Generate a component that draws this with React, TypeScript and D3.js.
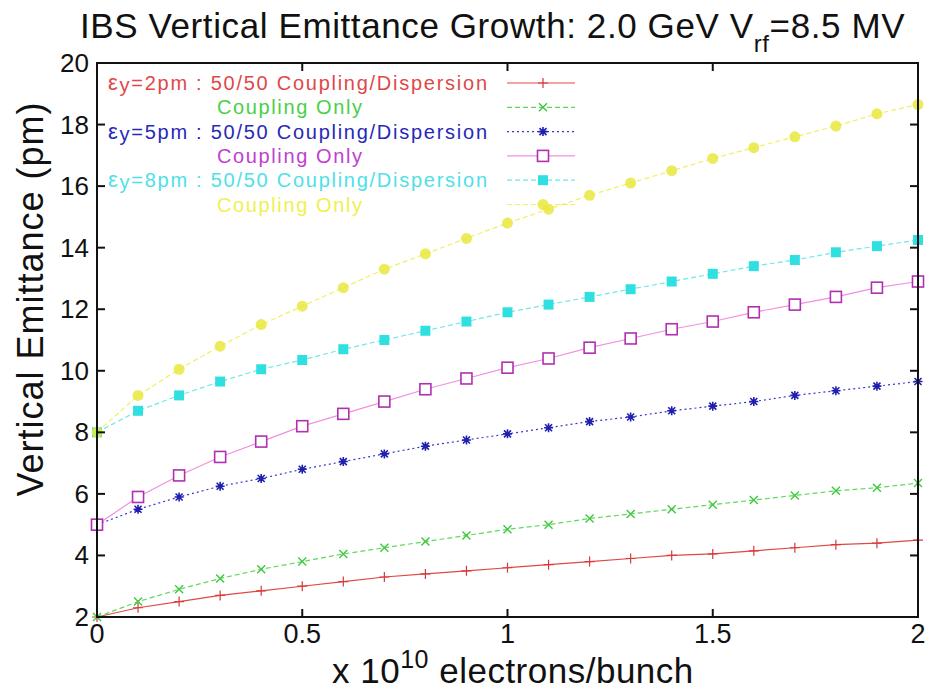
import React from "react";
import * as d3 from "d3";

const xValues = [0, 0.1, 0.2, 0.3, 0.4, 0.5, 0.6, 0.7, 0.8, 0.9, 1.0, 1.1, 1.2, 1.3, 1.4, 1.5, 1.6, 1.7, 1.8, 1.9, 2.0];
const red2pmMixed = [2.0, 2.3, 2.5, 2.7, 2.85, 3.0, 3.15, 3.3, 3.4, 3.5, 3.6, 3.7, 3.8, 3.9, 4.0, 4.05, 4.15, 4.25, 4.35, 4.4, 4.5];
const green2pmCoupling = [2.0, 2.5, 2.9, 3.25, 3.55, 3.8, 4.05, 4.25, 4.45, 4.65, 4.85, 5.0, 5.2, 5.35, 5.5, 5.65, 5.8, 5.95, 6.1, 6.2, 6.35];
const blue5pmMixed = [5.0, 5.5, 5.9, 6.25, 6.5, 6.8, 7.05, 7.3, 7.55, 7.75, 7.95, 8.15, 8.35, 8.5, 8.7, 8.85, 9.0, 9.2, 9.35, 9.5, 9.65];
const magenta5pmCoupling = [5.0, 5.9, 6.6, 7.2, 7.7, 8.2, 8.6, 9.0, 9.4, 9.75, 10.1, 10.4, 10.75, 11.05, 11.35, 11.6, 11.9, 12.15, 12.4, 12.7, 12.9];
const cyan8pmMixed = [8.0, 8.7, 9.2, 9.65, 10.05, 10.35, 10.7, 11.0, 11.3, 11.6, 11.9, 12.15, 12.4, 12.65, 12.9, 13.15, 13.4, 13.6, 13.85, 14.05, 14.25];
const yellow8pmCoupling = [8.0, 9.2, 10.05, 10.8, 11.5, 12.1, 12.7, 13.3, 13.8, 14.3, 14.8, 15.25, 15.7, 16.1, 16.5, 16.9, 17.25, 17.6, 17.95, 18.35, 18.65];

const xTicks = [0, 0.5, 1, 1.5, 2];
const xTickLabels = ["0", "0.5", "1", "1.5", "2"];
const yTicks = [2, 4, 6, 8, 10, 12, 14, 16, 18, 20];

const legendEps = ["2", "", "5", "", "8", ""];
const legendDesc = ["50/50 Coupling/Dispersion", "Coupling Only", "50/50 Coupling/Dispersion", "Coupling Only", "50/50 Coupling/Dispersion", "Coupling Only"];

type Series = { values: number[]; color: string; lineColor: string; dash: string; marker: string; textColor: string };
const series: Series[] = [
  { values: red2pmMixed, color: "#d83838", lineColor: "#e04848", dash: "", marker: "plus", textColor: "#e04848" },
  { values: green2pmCoupling, color: "#40c840", lineColor: "#60d860", dash: "5,3", marker: "times", textColor: "#48d048" },
  { values: blue5pmMixed, color: "#2020b0", lineColor: "#3838d0", dash: "2,3", marker: "asterisk", textColor: "#2828b8" },
  { values: magenta5pmCoupling, color: "#b030b0", lineColor: "#f090e0", dash: "", marker: "squareOpen", textColor: "#c040d0" },
  { values: cyan8pmMixed, color: "#30e0e0", lineColor: "#70e8e8", dash: "5,3", marker: "squareFilled", textColor: "#50e0e8" },
  { values: yellow8pmCoupling, color: "#e8e840", lineColor: "#f0f060", dash: "5,3", marker: "circle", textColor: "#f0f050" },
];

function Marker({ type, x, y, color }: { type: string; x: number; y: number; color: string }) {
  const s = 5;
  if (type === "plus") {
    return <path d={`M${x - s},${y}H${x + s}M${x},${y - s}V${y + s}`} stroke={color} strokeWidth={1.2} />;
  }
  if (type === "times") {
    return <path d={`M${x - 4},${y - 4}L${x + 4},${y + 4}M${x - 4},${y + 4}L${x + 4},${y - 4}`} stroke={color} strokeWidth={1.4} />;
  }
  if (type === "asterisk") {
    return (
      <g>
        <path d={`M${x - 4.5},${y}H${x + 4.5}M${x},${y - 4.5}V${y + 4.5}M${x - 3.5},${y - 3.5}L${x + 3.5},${y + 3.5}M${x - 3.5},${y + 3.5}L${x + 3.5},${y - 3.5}`} stroke={color} strokeWidth={1.6} />
        <circle cx={x} cy={y} r={2.2} fill={color} />
      </g>
    );
  }
  if (type === "squareOpen") {
    return <rect x={x - 5.5} y={y - 5.5} width={11} height={11} fill="white" stroke={color} strokeWidth={1.6} />;
  }
  if (type === "squareFilled") {
    return <rect x={x - 5} y={y - 5} width={10} height={10} fill={color} />;
  }
  return <circle cx={x} cy={y} r={5.5} fill={color} opacity={0.85} />;
}

export default function App() {
  const width = 930;
  const height = 690;
  const left = 97, right = 918, top = 63, bottom = 617;
  const x = d3.scaleLinear().domain([0, 2]).range([left, right]);
  const y = d3.scaleLinear().domain([2, 20]).range([bottom, top]);
  const font = "'Liberation Sans', Arial, sans-serif";

  const legendY = (i: number) => 83 + i * 24.3;
  const legendLineX0 = 507, legendLineX1 = 575;

  return (
    <svg width={width} height={height} style={{ position: "absolute", left: 0, top: 0, background: "white" }} fontFamily={font}>
      <rect x={0} y={0} width={width} height={height} fill="white" />
      {/* Title */}
      <text x={80} y={38} fontSize={35} fill="#111" letterSpacing={0.6}>
        IBS Vertical Emittance Growth: 2.0 GeV V
        <tspan dy={14} fontSize={24}>rf</tspan>
        <tspan dy={-14}>=8.5 MV</tspan>
      </text>

      {/* Series lines */}
      {series.map((s, i) => {
        const line = d3.line<number>().x((_, j) => x(xValues[j])).y((v) => y(v));
        return (
          <path key={"l" + i} d={line(s.values) || ""} fill="none" stroke={s.lineColor} strokeWidth={1.2} strokeDasharray={s.dash} />
        );
      })}
      {series.map((s, i) => (
        <g key={"m" + i}>
          {s.values.map((v, j) => (
            <Marker key={j} type={s.marker} x={x(xValues[j])} y={y(v)} color={s.color} />
          ))}
        </g>
      ))}

      {/* Legend */}
      {series.map((s, i) => {
        const ly = legendY(i);
        const hasEps = legendEps[i] !== "";
        return (
          <g key={"lg" + i}>
            {hasEps ? (
              <text x={108} y={ly + 7} fontSize={20} fill={s.textColor} textLength={379} lengthAdjust="spacing">
                <tspan fontSize={22}>ε</tspan><tspan dy={2}>y</tspan>
                <tspan dy={-2}>{`=${legendEps[i]}pm : ${legendDesc[i]}`}</tspan>
              </text>
            ) : (
              <text x={217} y={ly + 7} fontSize={20} fill={s.textColor} textLength={145} lengthAdjust="spacing">
                {legendDesc[i]}
              </text>
            )}
            <line x1={legendLineX0} x2={legendLineX1} y1={ly} y2={ly} stroke={s.lineColor} strokeWidth={1.2} strokeDasharray={s.dash} />
            <Marker type={s.marker} x={(legendLineX0 + legendLineX1) / 2 + 2} y={ly} color={s.color} />
          </g>
        );
      })}

      {/* Frame */}
      <rect x={left} y={top} width={right - left} height={bottom - top} fill="none" stroke="#111" strokeWidth={2} />
      {/* Ticks */}
      {xTicks.map((t, i) => (
        <g key={"xt" + i}>
          <line x1={x(t)} x2={x(t)} y1={bottom} y2={bottom - 8} stroke="#111" strokeWidth={2} />
          <line x1={x(t)} x2={x(t)} y1={top} y2={top + 8} stroke="#111" strokeWidth={2} />
          <text x={x(t)} y={bottom + 26} fontSize={27} textAnchor="middle" fill="#111">{xTickLabels[i]}</text>
        </g>
      ))}
      {yTicks.map((t, i) => (
        <g key={"yt" + i}>
          <line x1={left} x2={left + 8} y1={y(t)} y2={y(t)} stroke="#111" strokeWidth={2} />
          <line x1={right} x2={right - 8} y1={y(t)} y2={y(t)} stroke="#111" strokeWidth={2} />
          <text x={89} y={y(t) + 9} fontSize={26} textAnchor="end" fill="#111">{t}</text>
        </g>
      ))}

      {/* Axis labels */}
      <text x={332} y={683} fontSize={35} fill="#111" letterSpacing={0.5}>
        x 10<tspan dy={-15} fontSize={25}>10</tspan>
        <tspan dy={15}> electrons/bunch</tspan>
      </text>
      <text transform={`translate(43, 299) rotate(-90)`} fontSize={36} textAnchor="middle" fill="#111" letterSpacing={1}>
        Vertical Emittance (pm)
      </text>
    </svg>
  );
}
